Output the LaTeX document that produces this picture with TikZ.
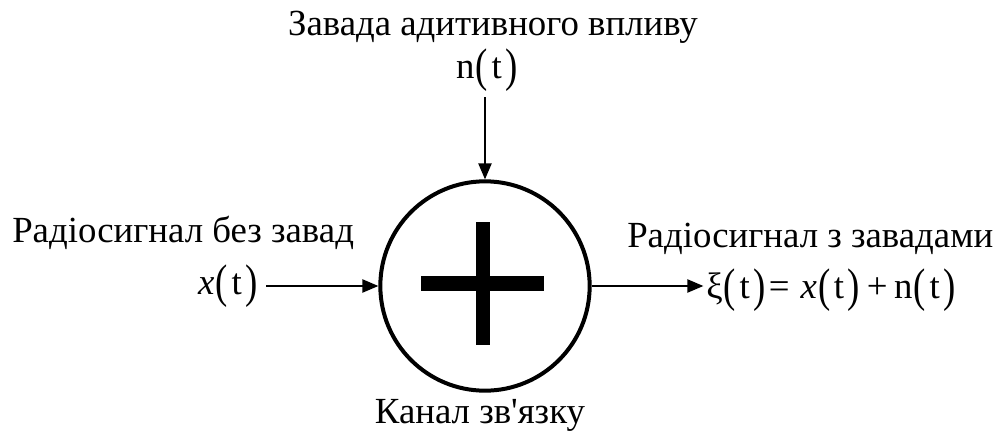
\documentclass[tikz,border=0pt]{standalone}
\usepackage{fontspec}
\setmainfont{Liberation Serif}[Ligatures=TeXOff]
\usetikzlibrary{arrows.meta}
\newcommand{\lp}{\raisebox{-0.1em}{\scalebox{1}[1.28]{(}}}
\newcommand{\rp}{\raisebox{-0.1em}{\scalebox{1}[1.28]{)}}}
\newcommand{\ft}{\kern0.03em\lp\kern0.1em t\kern0.1em\rp}
\begin{document}
\begin{tikzpicture}[x=0.75pt,y=-0.75pt,
  lbl/.style={inner sep=0pt,font=\fontsize{27.6}{32}\selectfont},
  conn/.style={line width=1pt,-{Triangle[length=12pt,width=10pt]}}]
\useasboundingbox (0,0) rectangle (1000,432);
\node[circle,draw,line width=3pt,minimum size=157pt,inner sep=0pt] (sum) at (485,286) {};
\fill (421,276) rectangle (544,291);
\fill (476,222) rectangle (490,345);
\node[lbl,anchor=base] (top) at (493,36) {Завада адитивного впливу};
\node[lbl,anchor=base] (nt) at (487,78) {n\ft};
\node[lbl,anchor=base west] (inl) at (12,242) {Радіосигнал без завад};
\node[lbl,anchor=base east] (xt) at (258,294) {\textit{x}\ft};
\node[lbl,anchor=base west] (outl) at (627,247) {Радіосигнал з завадами};
\node[lbl,anchor=base west] (eq) at (706,298) {ξ\ft\kern0.08em=\kern0.3em\textit{x}\ft\kern0.18em+\kern0.18em n\ft};
\node[lbl,anchor=base] (ch) at (480,423) {Канал зв'язку};
\draw[conn] ([yshift=-4pt]sum.north |- nt.south) -- (sum.north);
\draw[conn] ([xshift=6pt]xt.east |- sum.west) -- (sum.west);
\draw[conn] (sum.east) -- ([xshift=-2pt]sum.east -| eq.west);
\end{tikzpicture}
\end{document}
